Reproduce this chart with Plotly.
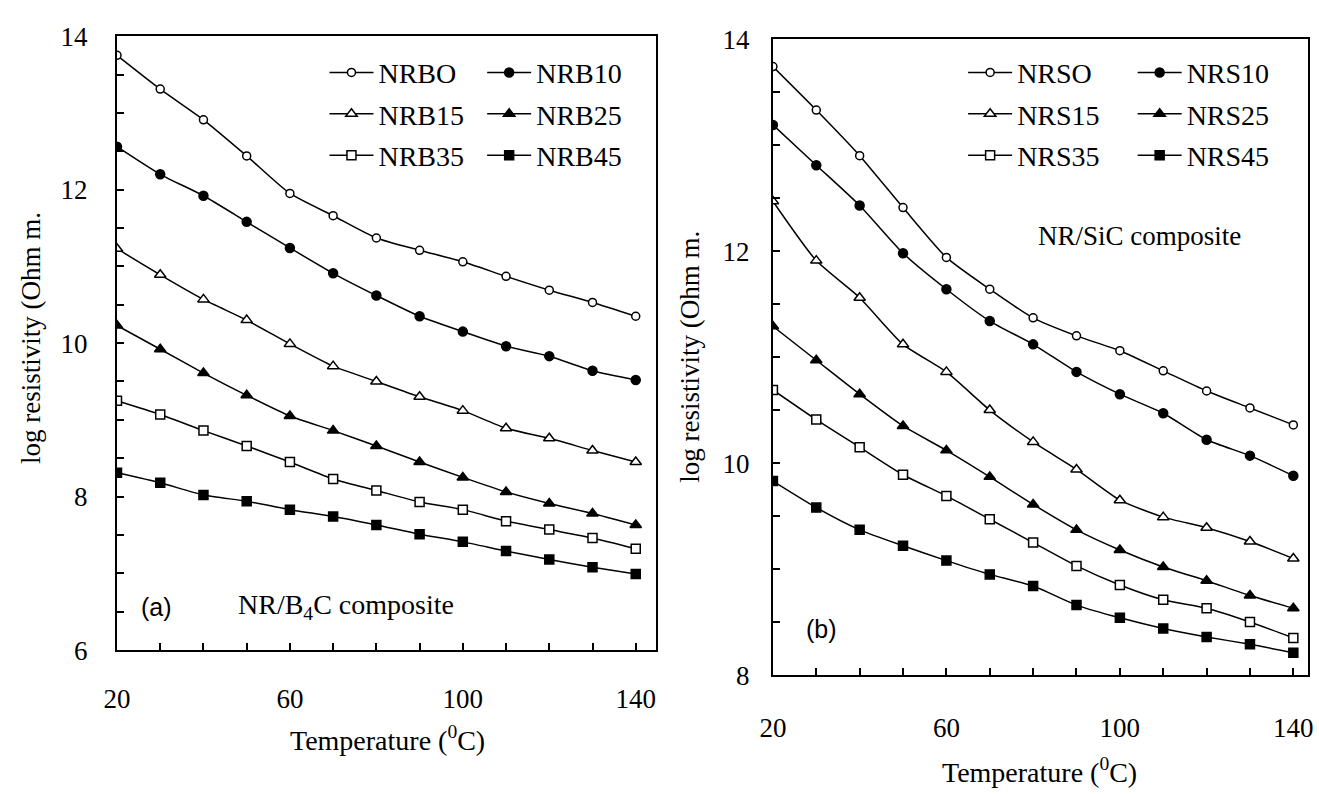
import plotly.graph_objects as go

W, H = 1319, 794

temps = [20, 30, 40, 50, 60, 70, 80, 90, 100, 110, 120, 130, 140]

# Panel (a): NR/B4C composite
NRBO = [13.75, 13.31, 12.91, 12.44, 11.95, 11.66, 11.37, 11.21, 11.06, 10.87, 10.69, 10.53, 10.35]
NRB10 = [12.56, 12.20, 11.92, 11.58, 11.24, 10.91, 10.62, 10.35, 10.15, 9.96, 9.83, 9.64, 9.52]
NRB15 = [11.23, 10.89, 10.57, 10.30, 9.99, 9.70, 9.50, 9.30, 9.12, 8.89, 8.76, 8.60, 8.45]
NRB25 = [10.23, 9.92, 9.61, 9.32, 9.05, 8.86, 8.66, 8.45, 8.25, 8.06, 7.91, 7.78, 7.63]
NRB35 = [9.25, 9.07, 8.86, 8.66, 8.45, 8.23, 8.08, 7.93, 7.83, 7.68, 7.57, 7.46, 7.32]
NRB45 = [8.31, 8.18, 8.02, 7.94, 7.83, 7.74, 7.63, 7.51, 7.41, 7.29, 7.18, 7.08, 6.99]

# Panel (b): NR/SiC composite
NRSO = [13.74, 13.33, 12.90, 12.41, 11.94, 11.64, 11.37, 11.20, 11.06, 10.87, 10.68, 10.52, 10.36]
NRS10 = [13.19, 12.81, 12.43, 11.98, 11.64, 11.34, 11.12, 10.86, 10.65, 10.47, 10.22, 10.07, 9.88]
NRS15 = [12.47, 11.91, 11.56, 11.12, 10.86, 10.50, 10.20, 9.94, 9.65, 9.49, 9.39, 9.26, 9.10]
NRS25 = [11.29, 10.97, 10.65, 10.35, 10.12, 9.87, 9.61, 9.37, 9.18, 9.02, 8.89, 8.75, 8.63]
NRS35 = [10.69, 10.41, 10.15, 9.89, 9.69, 9.47, 9.25, 9.03, 8.85, 8.71, 8.63, 8.50, 8.35]
NRS45 = [9.83, 9.58, 9.37, 9.22, 9.08, 8.95, 8.84, 8.66, 8.54, 8.44, 8.36, 8.29, 8.21]

names_a = ["NRBO", "NRB10", "NRB15", "NRB25", "NRB35", "NRB45"]
names_b = ["NRSO", "NRS10", "NRS15", "NRS25", "NRS35", "NRS45"]
series_a = [NRBO, NRB10, NRB15, NRB25, NRB35, NRB45]
series_b = [NRSO, NRS10, NRS15, NRS25, NRS35, NRS45]
symbols = ["circle", "circle", "triangle-up", "triangle-up", "square", "square"]
fills = ["white", "black", "white", "black", "white", "black"]
sizes = [8, 9, 10, 10, 9, 9]

SERIF = "Liberation Serif, Times New Roman, serif"
SANS = "Liberation Sans, Arial, sans-serif"
FS = 28
TFS = 27


def px(x):
    return x / W


def py(y):
    return 1 - y / H


fig = go.Figure()

# legend assignments: column 1 = entries 0,2,4 ; column 2 = entries 1,3,5
for panel, (names, series) in enumerate([(names_a, series_a), (names_b, series_b)]):
    for i, (nm, vals) in enumerate(zip(names, series)):
        leg_idx = panel * 2 + (i % 2) + 1
        leg = "legend" if leg_idx == 1 else f"legend{leg_idx}"
        fig.add_trace(go.Scatter(
            x=temps, y=vals, name=nm,
            mode="lines+markers",
            line=dict(color="black", width=1.5, shape="spline", smoothing=0.6),
            marker=dict(symbol=symbols[i], size=sizes[i], color=fills[i],
                        line=dict(color="black", width=1.5)),
            xaxis="x" if panel == 0 else "x2",
            yaxis="y" if panel == 0 else "y2",
            legend=leg, legendgroup=nm,
        ))

axis_common = dict(
    showgrid=False, zeroline=False, showline=True, linecolor="black", linewidth=2,
    mirror=True, ticks="inside", ticklen=7, tickwidth=1.5, tickcolor="black",
    tickfont=dict(family=SERIF, size=TFS, color="black"),
)

fig.update_layout(
    width=W, height=H,
    margin=dict(l=0, r=0, t=0, b=0),
    paper_bgcolor="white", plot_bgcolor="white",
    showlegend=True,
    xaxis=dict(domain=[px(104.5), px(651)], range=[20, 144.6], anchor="y",
               tickvals=[20, 60, 100, 140], ticklabelstandoff=24,
               minor=dict(ticks="inside", ticklen=7, tickwidth=1.5, tickcolor="black", dtick=10, tick0=20),
               **axis_common),
    yaxis=dict(domain=[py(660), py(22)], range=[6, 14], anchor="x",
               tickvals=[6, 8, 10, 12, 14], ticklabelstandoff=22,
               minor=dict(ticks="inside", ticklen=7, tickwidth=1.5, tickcolor="black", dtick=0.5, tick0=6),
               **axis_common),
    xaxis2=dict(domain=[px(770), px(1313)], range=[20, 143.4], anchor="y2",
                tickvals=[20, 60, 100, 140], ticklabelstandoff=28,
                minor=dict(ticks="inside", ticklen=7, tickwidth=1.5, tickcolor="black", dtick=10, tick0=20),
                **axis_common),
    yaxis2=dict(domain=[py(686), py(25)], range=[8, 14], anchor="x2",
                tickvals=[8, 10, 12, 14], ticklabelstandoff=16,
                minor=dict(ticks="inside", ticklen=7, tickwidth=1.5, tickcolor="black", dtick=0.5, tick0=8),
                **axis_common),
)

leg_common = dict(
    xref="paper", yref="paper", xanchor="left", yanchor="top",
    bgcolor="rgba(0,0,0,0)", borderwidth=0,
    font=dict(family=SERIF, size=FS, color="black"),
    tracegroupgap=2, itemwidth=44,
)
fig.update_layout(
    legend=dict(x=px(315), y=py(34), **leg_common),
    legend2=dict(x=px(475), y=py(34), **leg_common),
    legend3=dict(x=px(963), y=py(34), **leg_common),
    legend4=dict(x=px(1135), y=py(34), **leg_common),
)

annos = [
    dict(x=px(379), y=py(752), text="Temperature (<sup>0</sup>C)", font=dict(family=SERIF, size=FS)),
    dict(x=px(1040), y=py(785), text="Temperature (<sup>0</sup>C)", font=dict(family=SERIF, size=FS)),
    dict(x=px(18), y=py(336), text="log resistivity (Ohm m.", textangle=-90, font=dict(family=SERIF, size=FS - 1)),
    dict(x=px(685), y=py(355), text="log resistivity (Ohm m.", textangle=-90, font=dict(family=SERIF, size=FS - 1)),
    dict(x=px(145), y=py(615), text="(a)", font=dict(family=SANS, size=25)),
    dict(x=px(337), y=py(615), text="NR/B<sub>4</sub>C composite", font=dict(family=SERIF, size=FS)),
    dict(x=px(819), y=py(638), text="(b)", font=dict(family=SANS, size=25)),
    dict(x=px(1142), y=py(230), text="NR/SiC composite", font=dict(family=SERIF, size=FS - 1)),
]
for a in annos:
    a.setdefault("xref", "paper")
    a.setdefault("yref", "paper")
    a["showarrow"] = False
    a["xanchor"] = "center"
    a["yanchor"] = "middle"
    a["font"]["color"] = "black"
    fig.add_annotation(**a)

fig.write_html("out.html")
